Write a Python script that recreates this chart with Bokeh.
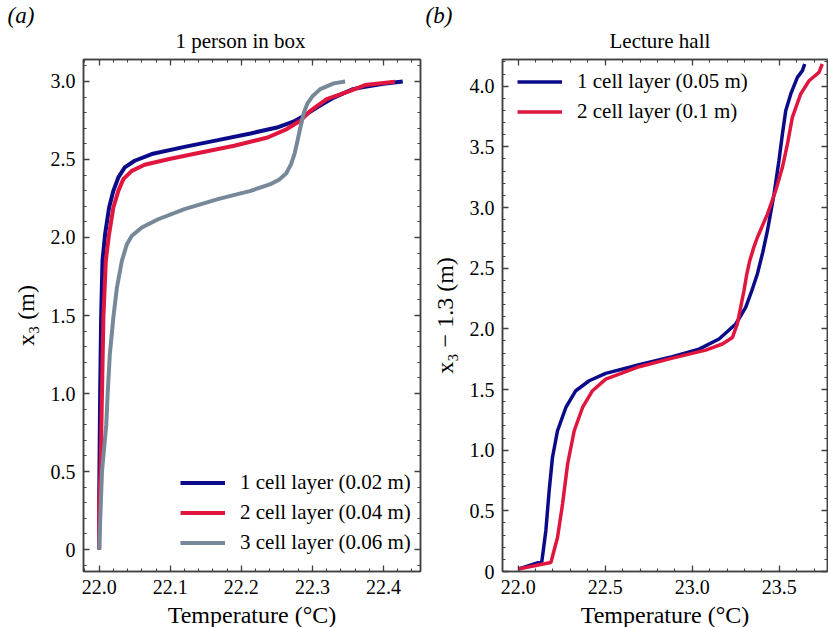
from bokeh.plotting import figure
from bokeh.layouts import row
from bokeh.models import (Range1d, LinearAxis, SingleIntervalTicker, Legend, LegendItem,
                          Title, PrintfTickFormatter)
from bokeh.embed import file_html
from bokeh.resources import INLINE

FONT = "Liberation Serif"
AXC = "#404040"
BLUE = "#0b0b8a"
RED = "#e0163f"
GRAY = "#778899"

# ---------------- data: panel (a) 1 person in box ----------------
a_title = "1 person in box"
a_labels = ["1 cell layer (0.02 m)", "2 cell layer (0.04 m)", "3 cell layer (0.06 m)"]
a1_T = [22.0, 22.0, 22.0014, 22.0028, 22.0047, 22.0084, 22.014, 22.020, 22.027, 22.036,
        22.050, 22.074, 22.120, 22.167, 22.213, 22.250, 22.274, 22.288, 22.306, 22.330,
        22.357, 22.374, 22.400, 22.427]
a1_z = [0.0, 0.3, 1.0, 1.487, 1.851, 2.022, 2.192, 2.299, 2.385, 2.449,
        2.492, 2.535, 2.581, 2.624, 2.667, 2.705, 2.744, 2.780, 2.833, 2.897,
        2.951, 2.966, 2.985, 3.0]
a2_T = [22.0, 22.0, 22.002, 22.004, 22.006, 22.0094, 22.014, 22.020, 22.027, 22.034,
        22.046, 22.064, 22.097, 22.143, 22.190, 22.237, 22.264, 22.283, 22.297, 22.320,
        22.353, 22.374, 22.416]
a2_z = [0.0, 0.3, 0.5, 1.0, 1.487, 1.851, 2.022, 2.192, 2.299, 2.374,
        2.427, 2.466, 2.502, 2.545, 2.588, 2.641, 2.695, 2.748, 2.812, 2.887,
        2.940, 2.977, 2.998]
a3_T = [22.0, 22.004, 22.010, 22.012, 22.015, 22.020, 22.025, 22.032, 22.039, 22.046,
        22.060, 22.083, 22.120, 22.167, 22.213, 22.241, 22.253, 22.263, 22.270, 22.275,
        22.279, 22.283, 22.288, 22.293, 22.300, 22.311, 22.330, 22.346]
a3_z = [0.0, 0.5, 0.8, 1.0, 1.25, 1.487, 1.679, 1.851, 1.957, 2.011,
        2.064, 2.117, 2.182, 2.246, 2.299, 2.342, 2.370, 2.410, 2.470, 2.540,
        2.620, 2.705, 2.800, 2.860, 2.905, 2.951, 2.988, 3.0]

# ---------------- data: panel (b) lecture hall ----------------
b_title = "Lecture hall"
b_labels = ["1 cell layer (0.05 m)", "2 cell layer (0.1 m)"]
b1_T = [22.0, 22.136, 22.159, 22.178, 22.197, 22.226, 22.274, 22.331, 22.408, 22.503,
        22.695, 22.886, 23.039, 23.154, 23.250, 23.307, 23.342, 23.374, 23.405, 23.432,
        23.470, 23.498, 23.518, 23.537, 23.566, 23.604, 23.633, 23.646]
b1_z = [0.02, 0.083, 0.336, 0.665, 0.94, 1.16, 1.352, 1.49, 1.572, 1.633,
        1.704, 1.77, 1.833, 1.916, 2.04, 2.177, 2.314, 2.452, 2.630, 2.809,
        3.111, 3.386, 3.606, 3.798, 3.936, 4.073, 4.128, 4.183]
b2_T = [22.0, 22.188, 22.226, 22.255, 22.284, 22.322, 22.370, 22.427, 22.503, 22.695,
        22.886, 23.077, 23.173, 23.231, 23.259, 23.278, 23.297, 23.312, 23.330, 23.352,
        23.374, 23.432, 23.479, 23.518, 23.547, 23.575, 23.623, 23.671, 23.728, 23.747]
b2_z = [0.02, 0.074, 0.28, 0.556, 0.886, 1.16, 1.352, 1.49, 1.586, 1.688,
        1.759, 1.825, 1.875, 1.929, 2.04, 2.177, 2.314, 2.440, 2.560, 2.665,
        2.753, 2.946, 3.138, 3.331, 3.524, 3.743, 3.936, 4.045, 4.114, 4.183]


def style_axis(ax, labels=True, label_standoff=8):
    ax.major_tick_in = 6
    ax.major_tick_out = 0
    ax.minor_tick_in = 3
    ax.minor_tick_out = 0
    ax.axis_line_color = AXC
    ax.axis_line_width = 1.5
    ax.major_tick_line_color = AXC
    ax.major_tick_line_width = 1.3
    ax.minor_tick_line_color = AXC
    ax.minor_tick_line_width = 1.1
    if labels:
        ax.major_label_text_font = FONT
        ax.major_label_text_font_size = "20px"
        ax.major_label_text_color = "black"
        ax.major_label_standoff = 8
        ax.axis_label_text_font = FONT
        ax.axis_label_text_font_size = "24px"
        ax.axis_label_text_font_style = "normal"
        ax.axis_label_text_color = "black"
        ax.axis_label_standoff = label_standoff
    else:
        ax.major_label_text_font_size = "0px"
        ax.major_label_standoff = 0
        ax.axis_label = None


def make_fig(xr, yr, xint, yint, fw, fh, bl, br, xlabel, ylabel):
    p = figure(frame_width=fw, frame_height=fh, min_border_left=bl, min_border_right=br,
               min_border_top=59, min_border_bottom=56,
               x_range=Range1d(*xr), y_range=Range1d(*yr),
               output_backend="svg", toolbar_location=None)
    p.grid.visible = False
    p.outline_line_color = AXC
    p.outline_line_width = 1.5
    p.background_fill_color = "white"
    p.border_fill_color = "white"
    fmt = PrintfTickFormatter(format="%.1f")
    p.xaxis.ticker = SingleIntervalTicker(interval=xint, num_minor_ticks=5)
    p.yaxis.ticker = SingleIntervalTicker(interval=yint, num_minor_ticks=5)
    p.xaxis.formatter = fmt
    p.yaxis.formatter = fmt
    p.yaxis.major_label_overrides = {0: "0"}
    p.xaxis.axis_label = xlabel
    p.yaxis.axis_label = ylabel
    style_axis(p.xaxis[0], label_standoff=5)
    style_axis(p.yaxis[0], label_standoff=9)
    top = LinearAxis(ticker=SingleIntervalTicker(interval=xint, num_minor_ticks=5))
    right = LinearAxis(ticker=SingleIntervalTicker(interval=yint, num_minor_ticks=5))
    style_axis(top, labels=False)
    style_axis(right, labels=False)
    p.add_layout(top, "above")
    p.add_layout(right, "right")
    return p


def add_titles(p, title, tag, title_off, tag_off):
    p.add_layout(Title(text=title, align="left", offset=title_off, text_font=FONT,
                       text_font_size="21px", text_font_style="normal",
                       text_color="black", standoff=13), "above")
    p.add_layout(Title(text=tag, align="left", offset=tag_off, text_font=FONT,
                       text_font_size="23px", text_font_style="italic",
                       text_color="black", standoff=-14), "above")


def make_legend(items, loc):
    return Legend(items=items, location=loc, label_text_font=FONT,
                  label_text_font_size="21px", label_text_color="black",
                  glyph_width=45, glyph_height=25, label_standoff=15, spacing=5,
                  padding=8, margin=0, border_line_color=None, background_fill_alpha=0)


# ---------------- panel (a) ----------------
p1 = make_fig((21.978, 22.452), (-0.141, 3.141), 0.1, 0.5, 337, 512, 83, 2,
              "Temperature (°C)", "x₃ (m)")
ra1 = p1.line(a1_T, a1_z, line_color=BLUE, line_width=4)
ra2 = p1.line(a2_T, a2_z, line_color=RED, line_width=4)
ra3 = p1.line(a3_T, a3_z, line_color=GRAY, line_width=4)
p1.add_layout(make_legend([LegendItem(label=a_labels[0], renderers=[ra1]),
                           LegendItem(label=a_labels[1], renderers=[ra2]),
                           LegendItem(label=a_labels[2], renderers=[ra3])], (97, 16)))
add_titles(p1, a_title, "(a)", 92, -76)

# ---------------- panel (b) ----------------
p2 = make_fig((21.910, 23.777), (0.0, 4.22), 0.5, 0.5, 325, 512, 80, 1,
              "Temperature (°C)", "x₃ − 1.3 (m)")
rb1 = p2.line(b1_T, b1_z, line_color=BLUE, line_width=3.5)
rb2 = p2.line(b2_T, b2_z, line_color=RED, line_width=3.5)
p2.add_layout(make_legend([LegendItem(label=b_labels[0], renderers=[rb1]),
                           LegendItem(label=b_labels[1], renderers=[rb2])], (15, 447)))
add_titles(p2, b_title, "(b)", 107, -77)

layout = row(p1, p2)
open("out.html", "w").write(file_html(layout, INLINE))
